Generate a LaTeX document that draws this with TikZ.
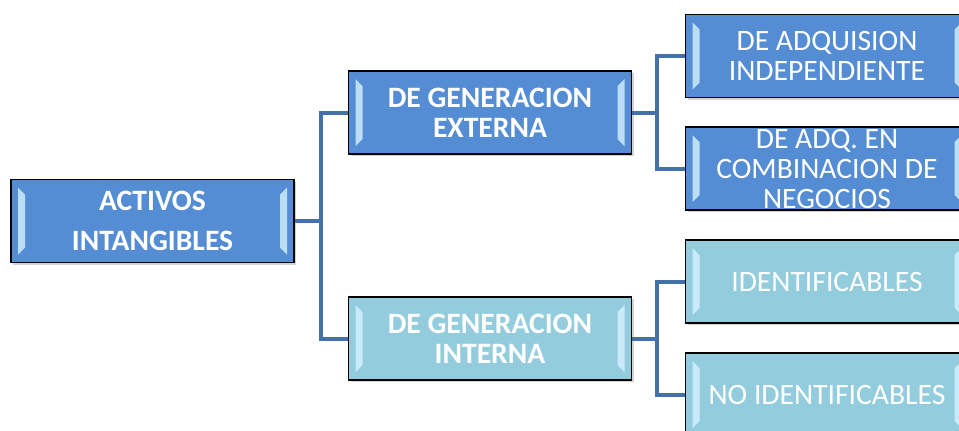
\documentclass[tikz,border=0pt]{standalone}
\usepackage{fontspec}
\setmainfont{Carlito}
\usetikzlibrary{calc,shadows}

\definecolor{darkbox}{RGB}{84,141,212}
\definecolor{lightbox}{RGB}{147,205,221}
\definecolor{linkblue}{RGB}{66,113,172}
\definecolor{bevel}{RGB}{215,242,255}

\tikzset{
  box/.style={draw=black, line width=0.8pt, text=white, align=center,
    inner sep=0pt, minimum width=141.5pt, minimum height=41.5pt,
    drop shadow={shadow xshift=1pt, shadow yshift=-1pt, opacity=0.35},
    path picture={
      \fill[bevel, opacity=0.8]
        ($(path picture bounding box.north west)+(3.5pt,-4pt)$) --
        ($(path picture bounding box.north west)+(7pt,-7.5pt)$) --
        ($(path picture bounding box.south west)+(7pt,7.5pt)$) --
        ($(path picture bounding box.south west)+(3.5pt,4pt)$) -- cycle;
      \fill[bevel, opacity=0.8]
        ($(path picture bounding box.north east)+(-3.5pt,-4pt)$) --
        ($(path picture bounding box.north east)+(-7pt,-7.5pt)$) --
        ($(path picture bounding box.south east)+(-7pt,7.5pt)$) --
        ($(path picture bounding box.south east)+(-3.5pt,4pt)$) -- cycle;
    }},
  darkbox/.style={box, fill=darkbox},
  lightbox/.style={box, fill=lightbox},
  link/.style={draw=linkblue, line width=2pt}
}

\begin{document}
\begin{tikzpicture}[x=0.5pt, y=-0.5pt]
  \useasboundingbox (0,0) rectangle (959,430);
  \clip (0,0) rectangle (959,430);

  % Root
  \node[darkbox, font=\bfseries\fontsize{14.8}{20}\selectfont] (root) at (152.5,221) {ACTIVOS\\INTANGIBLES};

  % Second level
  \node[darkbox, font=\bfseries\fontsize{14.8}{15}\selectfont] (ext) at (490,112.5) {DE GENERACION\\EXTERNA};
  \node[lightbox, font=\bfseries\fontsize{14.8}{15}\selectfont] (int) at (490,338.5) {DE GENERACION\\INTERNA};

  % Third level
  \node[darkbox, font=\fontsize{14.8}{15}\selectfont] (adq) at (827,56) {DE ADQUISION\\INDEPENDIENTE};
  \node[darkbox, font=\fontsize{14.8}{15}\selectfont] (comb) at (827,168.5) {DE ADQ. EN\\COMBINACION DE\\NEGOCIOS};
  \node[lightbox, font=\fontsize{14.8}{15}\selectfont] (ident) at (827,281.5) {IDENTIFICABLES};
  \node[lightbox, font=\fontsize{14.8}{15}\selectfont] (noid) at (827,394.5) {NO IDENTIFICABLES};

  % Connectors
  \coordinate (j0) at ($(root.east)+(13pt,0)$);
  \coordinate (j1) at ($(ext.east)+(12.5pt,0)$);
  \coordinate (j2) at ($(int.east)+(12.5pt,0)$);
  \draw[link] (root.east) -- (j0) |- (ext.west);
  \draw[link] (j0) |- (int.west);
  \draw[link] (ext.east) -- (j1) |- (adq.west);
  \draw[link] (j1) |- (comb.west);
  \draw[link] (int.east) -- (j2) |- (ident.west);
  \draw[link] (j2) |- (noid.west);
\end{tikzpicture}
\end{document}
